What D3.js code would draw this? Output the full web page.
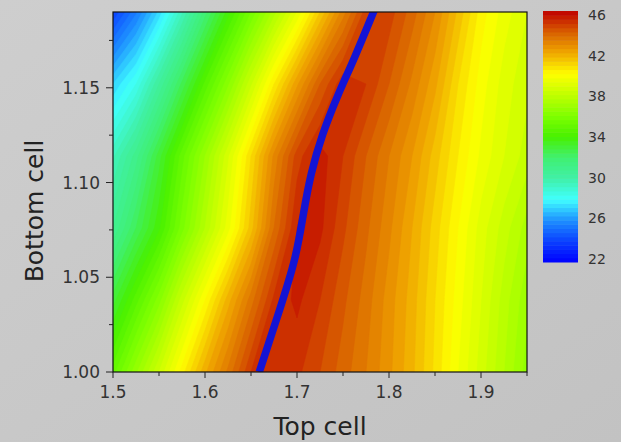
<!DOCTYPE html>
<html lang="en">
<head>
	<meta charset="utf-8" />
	<title>Top cell / Bottom cell efficiency map</title>
	<script type="text/javascript" src="https://d3js.org/d3.v7.min.js"></script>
	<style>
		html, body { margin: 0; padding: 0; background: #c6c6c6; }
		svg { display: block; font-family: "DejaVu Sans", Verdana, sans-serif; }
		.tick-label { fill: #333; font-size: 17px; }
		.bar-label { fill: #333; font-size: 14px; }
		.title { fill: #222; font-size: 25px; }
	</style>
</head>
<body>
<div id="content"></div>
<script type="text/javascript">

	// band gaps (eV) of the grid
	var topCell = [1.500, 1.525, 1.550, 1.575, 1.600, 1.625, 1.650, 1.675, 1.700, 1.725,
	               1.750, 1.775, 1.800, 1.825, 1.850, 1.875, 1.900, 1.925, 1.950];
	var bottomCell = [1.000, 1.038, 1.076, 1.114, 1.152, 1.190];

	// efficiency (%), one row per bottom cell value
	var eff100 = [35.0, 36.7, 38.4, 40.2, 41.9, 43.3, 44.8, 45.2, 44.9, 44.4, 43.8, 43.2, 42.5, 41.7, 40.7, 39.6, 38.6, 37.6, 36.6];
	var eff104 = [33.0, 34.6, 36.2, 38.2, 40.0, 41.8, 43.4, 44.9, 45.3, 44.8, 44.1, 43.4, 42.6, 41.8, 40.8, 39.8, 38.8, 37.8, 36.9];
	var eff108 = [30.8, 32.4, 33.9, 35.8, 37.6, 39.4, 41.4, 43.6, 45.2, 45.3, 44.5, 43.7, 42.9, 42.0, 41.0, 40.0, 39.0, 38.2, 37.4];
	var eff111 = [29.5, 31.0, 33.0, 35.0, 36.8, 38.7, 40.8, 42.9, 44.6, 45.4, 44.8, 44.0, 43.2, 42.4, 41.4, 40.4, 39.5, 38.8, 38.2];
	var eff115 = [27.2, 28.4, 30.4, 32.5, 34.5, 36.3, 38.3, 40.4, 42.3, 44.0, 45.1, 44.8, 44.0, 43.1, 42.1, 40.8, 39.8, 39.0, 38.5];
	var eff119 = [24.0, 25.5, 27.3, 29.5, 31.8, 33.8, 35.6, 37.4, 39.2, 41.2, 43.0, 44.6, 44.6, 43.8, 42.8, 41.5, 40.2, 39.4, 38.8];
	var effRows = [eff100, eff104, eff108, eff111, eff115, eff119];

	// optimum (best top cell for each bottom cell)
	var optTop    = [1.659, 1.682, 1.699, 1.707, 1.715, 1.727, 1.744, 1.762, 1.784];
	var optBottom = [1.000, 1.034, 1.060, 1.084, 1.105, 1.125, 1.146, 1.165, 1.191];

	// axis ticks
	var xTicks = [1.5, 1.6, 1.7, 1.8, 1.9];
	var xMinor = [1.55, 1.65, 1.75, 1.85, 1.95];
	var yTicks = [1.00, 1.05, 1.10, 1.15];
	var yMinor = [1.025, 1.075, 1.125, 1.175];
	var barTicks = [22, 26, 30, 34, 38, 42, 46];

	// colour map stops
	var cmapValues = [22, 24, 26, 28, 30, 32, 34, 36, 38, 40, 42, 44, 46];
	var cmapColors = ["#0000ff", "#0a40ff", "#1e90ff", "#40ffff", "#40f0a8", "#40f070", "#48f000",
	                  "#80ff00", "#c0ff00", "#ffff00", "#f0a800", "#d86000", "#c00000"];

	var W = 621, H = 442;
	var plot = {left: 113, right: 527, top: 12, bottom: 372};

	var svg = d3.select("#content").append("svg")
		.attr("width", W)
		.attr("height", H);

	var defs = svg.append("defs");
	var bg = defs.append("linearGradient").attr("id", "bg")
		.attr("x1", "0").attr("y1", "0").attr("x2", "1").attr("y2", "1");
	bg.append("stop").attr("offset", "0").attr("stop-color", "#cecece");
	bg.append("stop").attr("offset", "1").attr("stop-color", "#c2c2c2");
	defs.append("clipPath").attr("id", "plotclip")
		.append("rect")
		.attr("x", plot.left).attr("y", plot.top)
		.attr("width", plot.right - plot.left).attr("height", plot.bottom - plot.top);

	svg.append("rect").attr("width", W).attr("height", H).attr("fill", "url(#bg)");

	var x = d3.scaleLinear().domain([1.5, 1.95]).range([plot.left, plot.right]);
	var y = d3.scaleLinear().domain([1.0, 1.19]).range([plot.bottom, plot.top]);
	var color = d3.scaleLinear().domain(cmapValues).range(cmapColors).interpolate(d3.interpolateRgb);

	var levelStep = 0.4;
	var levels = d3.range(22, 46.01, levelStep);

	// contours
	var nx = topCell.length, ny = bottomCell.length;
	var values = [];
	effRows.forEach(function(row) { row.forEach(function(v) { values.push(v); }); });
	var dxStep = topCell[1] - topCell[0];
	var dyStep = bottomCell[1] - bottomCell[0];

	var gridToPlot = d3.geoTransform({
		point: function(gx, gy) {
			this.stream.point(x(topCell[0] + (gx - 0.5) * dxStep), y(bottomCell[0] + (gy - 0.5) * dyStep));
		}
	});
	var path = d3.geoPath().projection(gridToPlot);

	var contours = d3.contours().size([nx, ny]).thresholds(levels)(values);

	var field = svg.append("g").attr("clip-path", "url(#plotclip)");
	field.selectAll("path")
		.data(contours)
		.enter()
		.append("path")
		.attr("d", path)
		.attr("fill", function(d) { return color(d.value + levelStep / 2); })
		.attr("stroke", function(d) { return color(d.value + levelStep / 2); })
		.attr("stroke-width", 0.6);

	// optimum line
	var line = d3.line()
		.x(function(d, i) { return x(optTop[i]); })
		.y(function(d, i) { return y(optBottom[i]); })
		.curve(d3.curveBasis);
	field.append("path")
		.attr("d", line(optTop))
		.attr("fill", "none")
		.attr("stroke", "#1414d4")
		.attr("stroke-width", 7.5);

	// frame
	svg.append("rect")
		.attr("x", plot.left).attr("y", plot.top)
		.attr("width", plot.right - plot.left).attr("height", plot.bottom - plot.top)
		.attr("fill", "none").attr("stroke", "#111").attr("stroke-width", 1.2);

	// x axis
	var ax = svg.append("g");
	ax.selectAll(".maj").data(xTicks).enter().append("line")
		.attr("x1", function(d) { return x(d); }).attr("x2", function(d) { return x(d); })
		.attr("y1", plot.bottom).attr("y2", plot.bottom + 6)
		.attr("stroke", "#222");
	ax.selectAll(".min").data(xMinor).enter().append("line")
		.attr("x1", function(d) { return x(d); }).attr("x2", function(d) { return x(d); })
		.attr("y1", plot.bottom).attr("y2", plot.bottom + 4)
		.attr("stroke", "#222");
	ax.selectAll("text").data(xTicks).enter().append("text")
		.attr("class", "tick-label")
		.attr("x", function(d) { return x(d); })
		.attr("y", plot.bottom + 26)
		.attr("text-anchor", "middle")
		.text(function(d) { return d3.format(".1f")(d); });

	// y axis
	var ay = svg.append("g");
	ay.selectAll(".maj").data(yTicks).enter().append("line")
		.attr("x1", plot.left - 7).attr("x2", plot.left)
		.attr("y1", function(d) { return y(d); }).attr("y2", function(d) { return y(d); })
		.attr("stroke", "#222");
	ay.selectAll(".min").data(yMinor).enter().append("line")
		.attr("x1", plot.left - 4).attr("x2", plot.left)
		.attr("y1", function(d) { return y(d); }).attr("y2", function(d) { return y(d); })
		.attr("stroke", "#222");
	ay.selectAll("text").data(yTicks).enter().append("text")
		.attr("class", "tick-label")
		.attr("x", plot.left - 13)
		.attr("y", function(d) { return y(d) + 6; })
		.attr("text-anchor", "end")
		.text(function(d) { return d3.format(".2f")(d); });

	// titles
	svg.append("text").attr("class", "title")
		.attr("x", (plot.left + plot.right) / 2).attr("y", 435)
		.attr("text-anchor", "middle")
		.text("Top cell");
	svg.append("text").attr("class", "title")
		.attr("transform", "translate(43," + 211 + ") rotate(-90)")
		.attr("text-anchor", "middle")
		.text("Bottom cell");

	// colour bar
	var bar = {x: 543, w: 35, top: 11, bottom: 262};
	var yb = d3.scaleLinear().domain([22, 46]).range([bar.bottom, bar.top]);
	svg.append("g").selectAll("rect")
		.data(levels.slice(0, -1))
		.enter().append("rect")
		.attr("x", bar.x).attr("width", bar.w)
		.attr("y", function(d) { return yb(d + levelStep); })
		.attr("height", function(d) { return yb(d) - yb(d + levelStep) + 0.5; })
		.attr("fill", function(d) { return color(d + levelStep / 2); });
	var ylab = d3.scaleLinear().domain([22, 46]).range([259, 15]);
	svg.append("g").selectAll("text")
		.data(barTicks)
		.enter().append("text")
		.attr("class", "bar-label")
		.attr("x", 588)
		.attr("y", function(d) { return ylab(d) + 5; })
		.text(function(d) { return d; });

</script>
</body>
</html>
